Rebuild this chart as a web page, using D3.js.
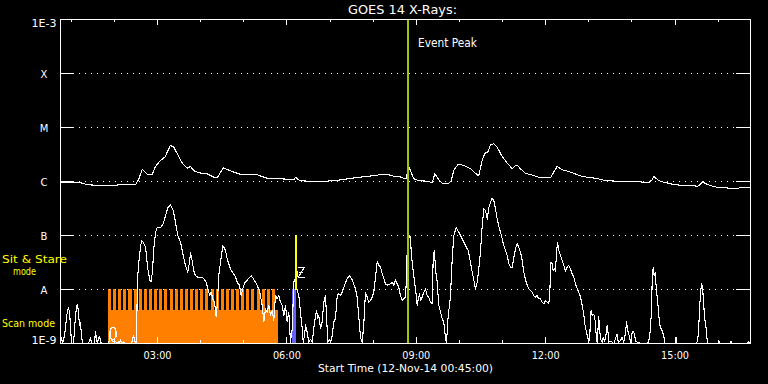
<!DOCTYPE html>
<html><head><meta charset="utf-8">
<script src="https://cdn.jsdelivr.net/npm/d3@7"></script>
<style>html,body{margin:0;padding:0;background:#000;}svg{display:block}</style>
</head><body>
<svg id="c" width="768" height="384"></svg>
<script>
// ---------- text ----------
const titleText = "GOES 14 X-Rays:";
const xTitleText = "Start Time (12-Nov-14 00:45:00)";
const eventLabel = "Event Peak";
const modeLabels = ["Sit & Stare", "mode", "Scan mode"];

// ---------- axes (time = minutes after 00:45 start) ----------
const spanMinutes = 960;
const hourTicks = [1,2,3,4,5,6,7,8,9,10,11,12,13,14,15,16];
const labeledHours = [3,6,9,12,15];
const yTickValues = [1e-9,1e-8,1e-7,1e-6,1e-5,1e-4,1e-3];
const yTickLabels = ["1E-9","A","B","C","M","X","1E-3"];
const gridLevels = [1e-8,1e-7,1e-6,1e-5,1e-4];

// ---------- GOES long channel (1-8 A): [minutes, W/m^2] ----------
const longChannel = [
[0,9.5e-7],[7.0,9.7e-7],[20.9,9.5e-7],[25.4,9.7e-7],[32.4,9.1e-7],[39.4,8.7e-7],[55.6,8.4e-7],[69.6,8.4e-7],
[83.5,8.7e-7],[104.3,8.7e-7],[109.0,1.12e-6],[113.7,1.67e-6],[121.5,1.33e-6],[127.5,1.33e-6],[132.2,1.9e-6],
[139.1,2.45e-6],[146.1,2.9e-6],[148.5,3.5e-6],[153.0,4.7e-6],[157.6,4.3e-6],[162.3,3.3e-6],[169.3,2.2e-6],
[176.3,1.76e-6],[180.9,1.9e-6],[185.5,1.58e-6],[192.4,1.45e-6],[204.1,1.39e-6],[213.3,1.2e-6],[218.0,1.17e-6],
[226.3,1.79e-6],[231.9,1.67e-6],[241.1,1.49e-6],[252.8,1.33e-6],[259.8,1.37e-6],[273.7,1.33e-6],[287.6,1.15e-6],
[306.1,1.12e-6],[324.6,1.09e-6],[327.4,1.2e-6],[330.1,1.09e-6],[333.9,1.04e-6],[347.8,1.0e-6],[361.8,1.0e-6],
[382.6,1.04e-6],[403.4,1.14e-6],[424.4,1.24e-6],[438.2,1.29e-6],[445.2,1.35e-6],[456.8,1.33e-6],[463.8,1.25e-6],
[470.6,1.25e-6],[477.6,1.15e-6],[481.4,1.12e-6],[483.2,1.9e-6],[484.6,1.9e-6],[487.9,1.49e-6],[491.6,1.12e-6],
[498.6,1.04e-6],[510.2,1.01e-6],[517.2,9.5e-7],[520.8,1.39e-6],[526.3,1.08e-6],[531.1,9.3e-7],[540.2,9.3e-7],
[543.6,1.04e-6],[547.2,1.6e-6],[553.3,2.1e-6],[561.1,1.98e-6],[570.5,1.72e-6],[579.7,1.33e-6],[582.0,1.29e-6],
[586.7,2.5e-6],[591.3,3.5e-6],[594.5,3.5e-6],[598.3,4.8e-6],[602.9,5.0e-6],[607.6,4.3e-6],[614.5,2.9e-6],
[621.5,2.2e-6],[628.5,1.72e-6],[633.1,1.98e-6],[635.4,2.0e-6],[640.0,1.72e-6],[646.9,1.42e-6],[658.5,1.29e-6],
[667.8,1.17e-6],[681.7,1.17e-6],[686.3,1.49e-6],[691.0,1.9e-6],[698.0,1.65e-6],[707.2,1.53e-6],[714.1,1.42e-6],
[723.5,1.27e-6],[732.8,1.2e-6],[744.4,1.15e-6],[758.2,1.04e-6],[774.5,1.01e-6],[797.6,1.01e-6],[811.6,9.7e-7],
[818.5,9.5e-7],[823.2,1.08e-6],[825.4,1.24e-6],[827.8,1.17e-6],[832.4,1.04e-6],[839.4,9.7e-7],[853.2,8.8e-7],
[867.2,8.4e-7],[881.1,8.4e-7],[885.9,8.1e-7],[889.4,8.7e-7],[893.6,9.9e-7],[897.4,9.1e-7],[904.3,8.4e-7],
[913.7,7.8e-7],[927.6,7.6e-7],[932.2,7.3e-7],[941.6,7.5e-7],[950.8,7.8e-7],[960,7.6e-7]
];

// ---------- GOES short channel (0.5-4 A): [minutes, W/m^2] ----------
const shortChannel = [
[0,1e-9],[1.4,1.3e-9],[2.8,1e-9],[5.6,1.4e-9],[8.3,2.9e-9],[9.7,4.1e-9],[11.1,4.6e-9],[12.5,3.8e-9],[13.9,2.2e-9],
[15.3,1e-9],[18.1,1e-9],[20.9,3.3e-9],[22.3,4.8e-9],[23.7,5.3e-9],[25.0,3.8e-9],[26.4,2.2e-9],[27.8,2.4e-9],
[29.2,1.4e-9],[30.6,1e-9],[38.9,1e-9],[40.3,1.1e-9],[41.7,1.3e-9],[43.1,1e-9],[47.3,1e-9],[48.7,1.7e-9],
[50.1,1.2e-9],[51.5,1e-9],[52.9,1.3e-9],[54.3,1.35e-9],[55.7,1.1e-9],[57.1,1e-9],[66.8,1e-9],
[68.9,1.3e-9],[68.9,1.7e-9],[71.0,2.0e-9],[75.1,2.0e-9],[77.2,1.7e-9],[77.2,1.35e-9],[75.1,1.2e-9],[71.0,1.2e-9],
[68.9,1.3e-9],[72.3,1.1e-9],[77.9,1.06e-9],[79.3,1e-9],[80.7,1.1e-9],[82.1,1e-9],[83.5,1.2e-9],[84.9,1e-9],
[87.7,1.1e-9],[89.0,1e-9],[98.8,1e-9],[100.2,1.2e-9],[101.6,1.4e-9],[103.0,1.2e-9],[104.3,1e-9],[105.7,1e-9],
[106.4,4.1e-9],[107.1,1.6e-8],[109.9,4.3e-8],[112.7,8.1e-8],[115.1,7.5e-8],[118.3,6.1e-8],[121.5,2.4e-8],
[124.2,1.5e-8],[126.2,1.4e-8],[128.0,2.2e-8],[129.8,5.7e-8],[132.2,1.15e-7],[134.5,1.4e-7],[139.1,1.4e-7],
[142.9,1.65e-7],[146.1,2.3e-7],[149.3,3.3e-7],[153.0,3.7e-7],[156.8,2.9e-7],[160.0,1.76e-7],[163.2,1.0e-7],
[167.0,7.5e-8],[170.7,4.3e-8],[173.9,2.8e-8],[177.1,2.1e-8],[179.5,3.2e-8],[180.9,4.8e-8],[183.2,3.4e-8],
[185.5,2.2e-8],[187.8,1.8e-8],[191.0,1.7e-8],[194.8,1.7e-8],[199.4,1.6e-8],[202.7,1.37e-8],[205.5,9.6e-9],
[207.7,7.7e-9],[209.7,8.9e-9],[212.5,6.3e-9],[214.3,5.8e-9],[216.6,3.1e-9],[218.0,5.1e-9],[220.2,1.8e-8],
[222.6,3.2e-8],[225.8,6.5e-8],[229.6,5.3e-8],[231.9,3.7e-8],[236.5,2.4e-8],[240.3,2.0e-8],[243.5,1.7e-8],
[245.8,1.37e-8],[249.0,1.2e-8],[251.4,7.7e-9],[254.2,1.1e-8],[256.4,1.33e-8],[259.8,1.5e-8],[263.4,1.7e-8],
[265.3,1.8e-8],[268.1,1.6e-8],[271.3,1.37e-8],[273.7,1.2e-8],[277.3,8.9e-9],[280.6,5.1e-9],[282.9,2.5e-9],
[285.2,4.4e-9],[287.6,3.8e-9],[289.8,5.1e-9],[292.2,3.3e-9],[294.5,4.1e-9],[296.8,2.7e-9],[299.1,7.7e-9],
[301.5,6.7e-9],[303.7,7.7e-9],[306.1,5.8e-9],[308.4,5.1e-9],[310.7,3.3e-9],[313.0,5.1e-9],[315.4,2.5e-9],
[317.6,3.8e-9],[320.0,1.06e-9],[322.4,1.9e-9],[324.6,1.37e-8],[327.0,1.6e-8],[329.3,9.6e-9],[331.5,7.7e-9],
[333.9,3.8e-9],[336.3,1.9e-9],[337.7,1.06e-9],[339.5,1.4e-9],[340.9,2.2e-9],[343.2,1.6e-9],[345.5,1.06e-9],
[347.8,1.2e-9],[350.2,1.06e-9],[352.4,1.9e-9],[354.8,3.3e-9],[356.2,4.1e-9],[358.0,2.9e-9],[359.4,3.3e-9],
[361.7,1.9e-9],[364.1,2.5e-9],[366.3,5.8e-9],[368.7,7.7e-9],[370.1,3.3e-9],[371.9,1.06e-9],[374.7,1.2e-9],
[375.7,1.06e-9],[378.0,1.4e-9],[380.2,2.5e-9],[382.6,2.9e-9],[385.0,7.7e-9],[387.2,8.3e-9],[389.6,7.7e-9],
[391.9,8.9e-9],[394.2,1.1e-8],[398.9,1.6e-8],[402.1,1.8e-8],[405.8,1.5e-8],[410.4,1.03e-8],[412.8,7.2e-9],
[415.0,3.1e-9],[417.4,1.3e-9],[419.8,1.06e-9],[422.0,2.3e-9],[424.3,8.9e-9],[426.7,7.2e-9],[428.9,5.8e-9],
[431.3,6.3e-9],[433.7,7.2e-9],[435.9,8.9e-9],[438.3,1.7e-8],[440.6,3.3e-8],[442.9,2.8e-8],[445.2,2.6e-8],
[447.6,1.95e-8],[449.8,1.6e-8],[452.2,1.27e-8],[454.5,1.2e-8],[459.1,1.27e-8],[461.5,1.37e-8],[463.7,1.2e-8],
[466.1,1.5e-8],[468.5,1.27e-8],[470.7,1.1e-8],[473.0,7.7e-9],[475.4,6.3e-9],[477.6,6.7e-9],[480.0,7.2e-9],
[481.4,1.7e-8],[482.4,5.7e-8],[483.8,8.1e-8],[485.6,1.0e-7],[487.0,9.3e-8],[487.7,5.7e-8],[489.3,3.2e-8],
[491.6,1.8e-8],[493.9,1.03e-8],[496.3,5.1e-9],[497.7,6.7e-9],[499.5,8.3e-9],[500.9,6.3e-9],[503.2,7.2e-9],
[505.5,8.9e-9],[507.8,1.03e-8],[510.2,7.7e-9],[512.4,7.2e-9],[514.8,5.8e-9],[517.2,5.4e-9],[518.6,4.3e-8],
[520.3,5.3e-8],[521.7,2.4e-8],[524.1,1.37e-8],[526.3,5.1e-9],[528.7,3.8e-9],[531.1,2.9e-9],[533.3,2.5e-9],
[534.7,1.6e-9],[536.6,1.06e-9],[538.0,1.6e-9],[539.4,3.3e-9],[541.2,5.1e-9],[542.6,7.7e-9],[545.0,3.7e-8],
[547.2,1.0e-7],[550.5,1.4e-7],[554.2,1.15e-7],[558.9,8.7e-8],[563.5,6.5e-8],[567.2,5.3e-8],[570.4,3.2e-8],
[572.8,2.1e-8],[575.0,1.5e-8],[577.4,1.03e-8],[579.8,1.37e-8],[582.0,2.4e-8],[584.3,4.9e-8],[586.7,1.5e-7],
[588.9,3.1e-7],[591.3,2.9e-7],[593.7,2.0e-7],[595.9,3.3e-7],[598.3,4.1e-7],[600.6,4.9e-7],[602.9,4.4e-7],
[605.2,3.1e-7],[607.6,2.0e-7],[609.8,1.5e-7],[612.2,1.15e-7],[614.5,8.7e-8],[616.8,6.5e-8],[619.1,5.3e-8],
[621.5,4.3e-8],[623.7,3.0e-8],[626.1,2.6e-8],[628.4,2.6e-8],[633.0,5.7e-8],[635.4,7.0e-8],[637.6,6.1e-8],
[640.0,4.9e-8],[642.4,3.4e-8],[644.6,2.1e-8],[647.0,1.5e-8],[649.3,1.2e-8],[651.5,1.03e-8],[653.9,9.6e-9],
[656.3,8.9e-9],[658.5,7.7e-9],[660.9,7.2e-9],[663.2,7.7e-9],[665.5,6.7e-9],[667.8,6.7e-9],[670.2,5.8e-9],
[672.4,5.4e-9],[674.8,6.3e-9],[677.1,5.8e-9],[679.4,5.4e-9],[680.8,8.9e-9],[682.2,3.2e-8],[684.1,3.0e-8],
[685.5,2.2e-8],[687.3,2.4e-8],[688.7,2.2e-8],[690.1,4.9e-8],[691.5,7.5e-8],[693.3,5.3e-8],[695.7,4.3e-8],
[698.0,3.4e-8],[700.3,2.8e-8],[702.6,2.2e-8],[705.0,2.6e-8],[707.2,2.8e-8],[709.6,2.4e-8],[711.9,1.95e-8],
[714.2,1.7e-8],[716.5,1.27e-8],[718.9,1.03e-8],[721.1,8.9e-9],[723.5,7.2e-9],[725.8,5.1e-9],[728.1,3.5e-9],
[729.0,2.5e-9],[730.4,2.0e-9],[731.8,1.6e-9],[732.8,1.4e-9],[735.0,1.1e-9],[736.4,1.3e-9],[737.4,3.1e-9],
[738.3,4.1e-9],[739.7,3.3e-9],[742.0,3.5e-9],[744.3,2.5e-9],[745.7,1.1e-9],[746.7,1.06e-9],[748.9,3.1e-9],
[750.3,1.7e-9],[751.3,1.2e-9],[753.7,1.06e-9],[755.1,1.3e-9],[756.9,1.1e-9],[758.3,1.3e-9],[759.7,1.7e-9],
[760.6,2.2e-9],[762.0,1.5e-9],[762.9,1.06e-9],[765.2,1.1e-9],[767.6,1.06e-9],[769.8,1e-9],[774.5,1.5e-9],
[775.9,1.06e-9],[778.2,1.1e-9],[781.5,1.3e-9],[783.7,1.06e-9],[786.1,1.6e-9],[787.5,2.5e-9],[789.3,1.7e-9],
[790.7,1.5e-9],[793.1,1.06e-9],[795.4,1.6e-9],[796.8,1.7e-9],[798.6,1.5e-9],[800.0,1.1e-9],[802.4,1.06e-9],
[807.0,1e-9],[816.3,1e-9],[818.5,1.1e-9],[820.9,1.9e-9],[821.9,3.5e-9],[823.3,1.5e-8],[824.7,2.6e-8],
[826.0,1.8e-8],[827.4,2.1e-8],[828.8,1.1e-8],[830.2,7.2e-9],[831.6,4.7e-9],[833.4,2.3e-9],[834.8,2.0e-9],
[837.2,1.7e-9],[839.4,1.4e-9],[840.8,1e-9],[855.6,1e-9],[856.3,1.3e-9],[857.0,1e-9],[884.9,1e-9],
[885.8,1.1e-9],[887.6,1.5e-9],[889.0,4.1e-9],[890.4,8.3e-9],[891.8,1.27e-8],[893.2,1.1e-8],[894.6,6.3e-9],
[896.0,3.1e-9],[897.4,2.3e-9],[898.7,1.7e-9],[900.1,1e-9],[915.5,1e-9],[916.2,1.1e-9],[916.9,1e-9],
[932.2,1e-9],[932.9,1.1e-9],[933.6,1e-9],[955.8,1e-9],[957.2,1.1e-9],[960,1e-9]
];

// ---------- observation modes ----------
const scanPeriod = [66.8, 303.3];           // scan mode block (minutes)
const scanBaseTop = 4.1e-9;                 // solid part of the scan block
const scanColumnTop = 1e-8;
const scanColumnWidth = 4.2;                // minutes
const scanColumns = [66.8,73.9,81.1,88.2,95.3,102.5,109.6,116.7,123.8,131.0,138.1,145.2,152.4,159.5,166.6,
  173.8,180.9,188.0,195.1,202.3,209.4,216.5,223.7,230.8,237.9,245.1,252.2,259.3,266.4,273.6,280.7,287.8,295.0];
const bluePeriod = [322.4, 328.0];
const sitStareTime = 328.3;
const sitStareRange = [1e-8, 1e-7];
const symbolFlux = 2.1e-8;
const eventPeakTime = 484.2;

// ---------- drawing ----------
const L = 60, R = 750, T = 19, B = 343;
const FONT = "DejaVu Sans";
const svg = d3.select("#c");
svg.append("rect").attr("width",768).attr("height",384).attr("fill","#000");

const x = d3.scaleLinear().domain([0, spanMinutes]).range([L, R]);
const y = d3.scaleLog().domain([1e-9, 1e-3]).range([B, T]).clamp(true);
const hm = h => h*60 - 45;

svg.append("clipPath").attr("id","plot").append("rect")
  .attr("x",L).attr("y",T).attr("width",R-L+1).attr("height",B-T+1);
const plot = svg.append("g").attr("clip-path","url(#plot)");

// scan mode (orange)
plot.append("rect").attr("fill","#ff8000").attr("shape-rendering","crispEdges")
  .attr("x", x(scanPeriod[0])).attr("width", x(scanPeriod[1]) - x(scanPeriod[0]))
  .attr("y", y(scanBaseTop)).attr("height", y(1e-9) - y(scanBaseTop) + 1);
plot.selectAll("rect.col").data(scanColumns).join("rect").attr("class","col")
  .attr("fill","#ff8000").attr("shape-rendering","crispEdges")
  .attr("x", d => x(d)).attr("width", d => x(d + scanColumnWidth) - x(d))
  .attr("y", y(scanColumnTop)).attr("height", y(1e-9) - y(scanColumnTop) + 1);

// blue bar
plot.append("rect").attr("fill","#6464ff").attr("shape-rendering","crispEdges")
  .attr("x", x(bluePeriod[0])).attr("width", x(bluePeriod[1]) - x(bluePeriod[0]))
  .attr("y", y(1e-8)).attr("height", y(1e-9) - y(1e-8) + 1);

// dotted grid
svg.selectAll("line.grid").data(gridLevels).join("line").attr("class","grid")
  .attr("x1", L + 19).attr("x2", R - 14)
  .attr("y1", d => y(d) + 0.5).attr("y2", d => y(d) + 0.5)
  .attr("stroke","#fff").attr("stroke-width",1).attr("stroke-dasharray","1 5")
  .attr("shape-rendering","crispEdges");

// curves
const line = d3.line().x(d => x(d[0]) + 0.5).y(d => y(d[1]) + 0.5);
[longChannel, shortChannel].forEach(s => {
  plot.append("path").attr("d", line(s)).attr("fill","none")
    .attr("stroke","#fff").attr("stroke-width",1.1).attr("stroke-linejoin","round")
    .attr("shape-rendering","crispEdges");
});

// sit & stare marker (yellow) + symbol
plot.append("line").attr("stroke","#ffff00").attr("stroke-width",2).attr("shape-rendering","crispEdges")
  .attr("x1", x(sitStareTime)).attr("x2", x(sitStareTime))
  .attr("y1", y(sitStareRange[1])).attr("y2", y(sitStareRange[0]) + 1);
{
  const sx = x(sitStareTime) + 0.5, sy = y(symbolFlux) + 0.5;
  const p = d3.path();
  p.moveTo(sx+2, sy-5); p.lineTo(sx+8, sy-5); p.lineTo(sx+2, sy+5); p.lineTo(sx+9, sy+5);
  p.moveTo(sx+1, sy-1); p.lineTo(sx+1, sy+5);
  p.moveTo(sx+3, sy); p.lineTo(sx+7, sy);
  plot.append("path").attr("d", p.toString()).attr("fill","none").attr("stroke","#fff")
    .attr("stroke-width",1).attr("shape-rendering","crispEdges");
}

// event peak line
plot.append("line").attr("stroke","#a0c800").attr("stroke-width",2).attr("shape-rendering","crispEdges")
  .attr("x1", x(eventPeakTime)).attr("x2", x(eventPeakTime))
  .attr("y1", T).attr("y2", B + 1);

// axes
function styleAxis(g){
  g.selectAll("path,line").attr("stroke","#fff").attr("stroke-width",1).attr("shape-rendering","crispEdges");
  g.selectAll("text").attr("fill","#fff").attr("font-family",FONT);
  return g;
}
const majorT = labeledHours.map(hm);
const minorT = hourTicks.filter(h => !labeledHours.includes(h)).map(hm);
const fmtHour = m => d3.format("02d")((m + 45) / 60) + ":00";

const xb = svg.append("g").attr("transform",`translate(0,${B})`)
  .call(d3.axisBottom(x).tickValues(majorT).tickSize(-6).tickSizeOuter(0).tickPadding(8).tickFormat(fmtHour));
styleAxis(xb).selectAll("text").attr("font-size","11px").attr("textLength",28).attr("lengthAdjust","spacingAndGlyphs");
styleAxis(svg.append("g").attr("transform",`translate(0,${B})`)
  .call(d3.axisBottom(x).tickValues(minorT).tickSize(-3).tickSizeOuter(0).tickFormat("")));
styleAxis(svg.append("g").attr("transform",`translate(0,${T})`)
  .call(d3.axisTop(x).tickValues(majorT).tickSize(-6).tickSizeOuter(0).tickFormat("")));
styleAxis(svg.append("g").attr("transform",`translate(0,${T})`)
  .call(d3.axisTop(x).tickValues(minorT).tickSize(-3).tickSizeOuter(0).tickFormat("")));

const yl = svg.append("g").attr("transform",`translate(${L},0)`)
  .call(d3.axisLeft(y).tickValues(yTickValues).tickSize(-14).tickSizeOuter(0).tickPadding(16)
    .tickFormat(d => yTickLabels[yTickValues.indexOf(d)]));
styleAxis(yl).selectAll("text")
  .attr("font-size","10px").attr("text-anchor","middle")
  .attr("dy", d => d === 1e-3 ? "7.6px" : d === 1e-9 ? "0.5px" : "4.6px")
  .each(function(d){ if (d === 1e-3 || d === 1e-9) d3.select(this).attr("textLength",25).attr("lengthAdjust","spacingAndGlyphs"); });
styleAxis(svg.append("g").attr("transform",`translate(${R},0)`)
  .call(d3.axisRight(y).tickValues(yTickValues).tickSize(-14).tickSizeOuter(0).tickFormat("")));

// frame
svg.append("rect").attr("x",L+0.5).attr("y",T+0.5).attr("width",R-L).attr("height",B-T)
  .attr("fill","none").attr("stroke","#fff").attr("stroke-width",1).attr("shape-rendering","crispEdges");

// texts
function txt(s, xx, yy, size, len, color){
  return svg.append("text").text(s).attr("x",xx).attr("y",yy)
    .attr("font-family",FONT).attr("font-size",size+"px").attr("fill",color || "#fff")
    .attr("textLength",len).attr("lengthAdjust","spacingAndGlyphs");
}
txt(titleText, 348, 14, 12, 109);
txt(xTitleText, 318, 371.5, 10.5, 175);
txt(eventLabel, x(eventPeakTime) + 10, 46.5, 11.5, 59);
txt(modeLabels[0], 2, 262.7, 11, 65, "#ffff00");
txt(modeLabels[1], 13, 275, 11, 23, "#ffff00");
txt(modeLabels[2], 2, 327.3, 11, 53, "#ffff00");
</script>
</body></html>
